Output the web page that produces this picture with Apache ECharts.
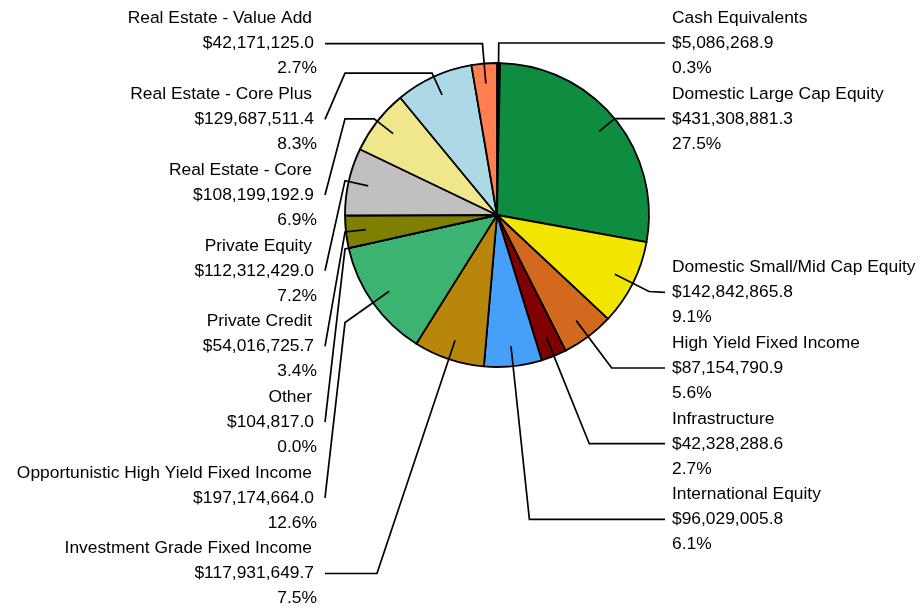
<!DOCTYPE html>
<html>
<head>
<meta charset="utf-8">
<title>Asset Allocation</title>
<script src="https://cdn.jsdelivr.net/npm/echarts@6/dist/echarts.min.js"></script>
<style>
  html, body { margin: 0; padding: 0; background: #fff; }
  #chart { width: 920px; height: 610px; }
</style>
</head>
<body>
<div id="chart"></div>
<script>
// asset classes, clockwise from 12 o'clock
const categories = [
  'Cash Equivalents',
  'Domestic Large Cap Equity',
  'Domestic Small/Mid Cap Equity',
  'High Yield Fixed Income',
  'Infrastructure',
  'International Equity',
  'Investment Grade Fixed Income',
  'Opportunistic High Yield Fixed Income',
  'Other',
  'Private Credit',
  'Private Equity',
  'Real Estate - Core',
  'Real Estate - Core Plus',
  'Real Estate - Value Add'
];

const amounts = [
  5086268.9, 431308881.3, 142842865.8, 87154790.9, 42328288.6, 96029005.8,
  117931649.7, 197174664.0, 104817.0, 54016725.7, 112312429.0, 108199192.9,
  129687511.4, 42171125.0
];

const sliceColors = [
  '#000080', '#0e8c40', '#f2e600', '#d2691e', '#800000', '#47a0f8', '#b8860b',
  '#3cb371', '#4b0082', '#808000', '#c0c0c0', '#f0e68c', '#add8e6', '#ff7f50'
];

// pie geometry
const CX = 497, CY = 215, R = 152;
const LINE_R = 132;   // leader lines start inside the slice
const LABEL_R = 172;  // where a label would sit if nothing was in the way
const ROW = 75.7;     // height of one 3-line label

const total = amounts.reduce((a, b) => a + b, 0);

// mid angle of each slice (radians, clockwise from top)
let acc = 0;
const mids = amounts.map(v => {
  const m = (acc + v / 2) / total * Math.PI * 2;
  acc += v;
  return m;
});
const isRight = i => Math.sin(mids[i]) >= 0;

// stack labels per side, pushing down when they would overlap
const labelY = [];
[true, false].forEach(side => {
  const idx = mids.map((m, i) => i).filter(i => isRight(i) === side);
  const natural = i => CY - LABEL_R * Math.cos(mids[i]);
  idx.sort((a, b) => natural(a) - natural(b));
  let last = -Infinity;
  idx.forEach(i => {
    let y = natural(i);
    if (y < last + ROW) y = last + ROW;
    labelY[i] = y;
    last = y;
  });
});

function money(v) {
  return '$' + v.toLocaleString('en-US', { minimumFractionDigits: 1, maximumFractionDigits: 1 });
}

function leader(i) {
  const dx = Math.sin(mids[i]), dy = -Math.cos(mids[i]);
  const right = isRight(i);
  const ly = labelY[i];
  const edgeX = right ? CX + R : CX - R;
  const endX = right ? CX + R + 16 : CX - R - 20;
  const start = [CX + LINE_R * dx, CY + LINE_R * dy];

  let tY = dy !== 0 ? (ly - CY) / dy : Infinity;
  if (!(tY > LINE_R)) tY = Infinity;
  const tX = dx !== 0 ? Math.abs((edgeX - CX) / dx) : Infinity;

  if (tY <= tX) {
    const p = [CX + tY * dx, CY + tY * dy];
    return [start, p, [endX, ly]];
  }
  const t = tY === Infinity ? Math.min(tX, R + 4) : tX;
  const p1 = [CX + t * dx, CY + t * dy];
  return [start, p1, [edgeX, p1[1]], [endX, ly]];
}

const pieData = categories.map((name, i) => ({
  name: name,
  value: amounts[i],
  itemStyle: { color: sliceColors[i] }
}));

const FONT = '"Liberation Sans", Arial, sans-serif';
const FS = 17.4, LH = 25;

const chart = echarts.init(document.getElementById('chart'), null, { renderer: 'canvas' });

chart.setOption({
  animation: false,
  backgroundColor: '#fff',
  series: [
    {
      // the slices
      type: 'pie',
      center: [CX, CY],
      radius: R,
      startAngle: 90,
      clockwise: true,
      silent: true,
      z: 2,
      itemStyle: { borderColor: '#000', borderWidth: 1.8 },
      label: { show: false },
      labelLine: { show: false },
      data: pieData
    },
    {
      // labels and leader lines on top
      type: 'pie',
      center: [CX, CY],
      radius: R,
      startAngle: 90,
      clockwise: true,
      silent: true,
      z: 3,
      avoidLabelOverlap: false,
      itemStyle: { color: 'rgba(0,0,0,0)', borderWidth: 0 },
      label: {
        show: true,
        position: 'outer',
        color: '#000',
        fontFamily: FONT,
        fontSize: FS,
        lineHeight: LH,
        formatter: p => {
          const pct = (p.value / total * 100).toFixed(1) + '%';
          // left-hand labels: lines end a little staggered, as in the original
          const s = isRight(p.dataIndex) ? 'r' : 'l';
          return '{' + s + 'n|' + p.name + '}\n{' + s + 'v|' + money(p.value) + '}\n{' + s + 'p|' + pct + '}';
        },
        rich: {
          rn: { fontFamily: FONT, fontSize: FS, lineHeight: LH, color: '#000' },
          rv: { fontFamily: FONT, fontSize: FS, lineHeight: LH, color: '#000' },
          rp: { fontFamily: FONT, fontSize: FS, lineHeight: LH, color: '#000' },
          ln: { fontFamily: FONT, fontSize: FS, lineHeight: LH, color: '#000', padding: [0, 5, 0, 0] },
          lv: { fontFamily: FONT, fontSize: FS, lineHeight: LH, color: '#000', padding: [0, 3, 0, 0] },
          lp: { fontFamily: FONT, fontSize: FS, lineHeight: LH, color: '#000' }
        }
      },
      labelLine: {
        show: true,
        lineStyle: { color: '#000', width: 1.7 }
      },
      labelLayout: function (params) {
        const i = params.dataIndex;
        const right = isRight(i);
        return {
          x: right ? CX + R + 23 : CX - R - 28,
          y: labelY[i],
          align: right ? 'left' : 'right',
          verticalAlign: 'middle',
          labelLinePoints: leader(i)
        };
      },
      data: pieData.map(d => ({ name: d.name, value: d.value }))
    }
  ]
});
</script>
</body>
</html>
